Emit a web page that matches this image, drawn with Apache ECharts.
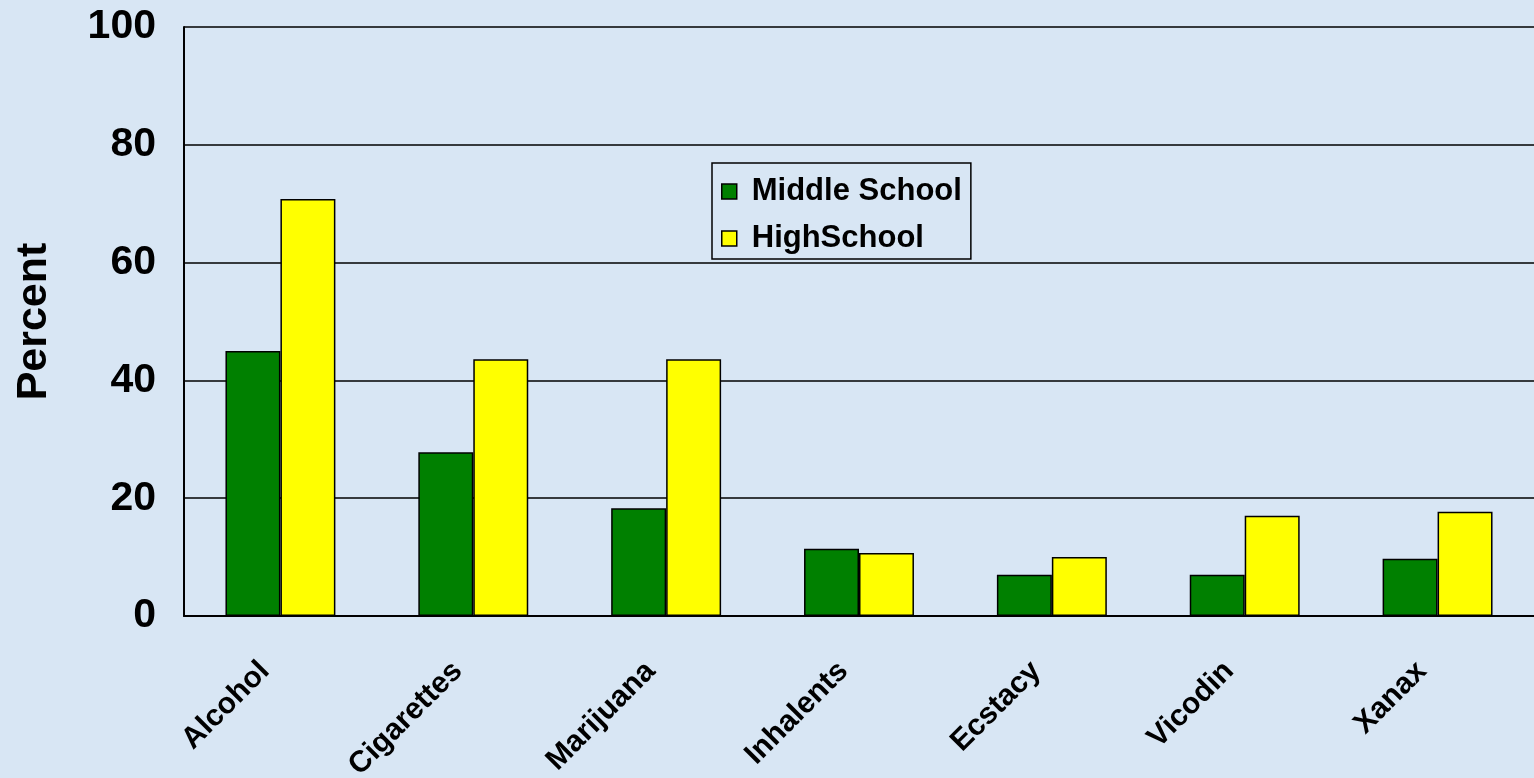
<!DOCTYPE html>
<html>
<head>
<meta charset="utf-8">
<script src="https://cdn.jsdelivr.net/npm/echarts@6/dist/echarts.min.js"></script>
<style>
  html, body { margin: 0; padding: 0; background: #d8e6f4; }
  #chart { width: 1534px; height: 778px; }
</style>
</head>
<body>
<div id="chart"></div>
<script>
const categories = ['Alcohol', 'Cigarettes', 'Marijuana', 'Inhalents', 'Ecstacy', 'Vicodin', 'Xanax'];
const middleSchool = [45, 27.8, 18.3, 11.4, 7, 7, 9.7];
const highSchool = [70.8, 43.6, 43.6, 10.7, 10, 17, 17.7];

const chart = echarts.init(document.getElementById('chart'));
const font = 'Liberation Sans, Arial, sans-serif';

chart.setOption({
  backgroundColor: '#d8e6f4',
  animation: false,
  grid: { left: 184, right: 0, top: 27, bottom: 162, containLabel: false, outerBoundsMode: 'none' },
  legend: {
    orient: 'vertical',
    left: 712,
    top: 163,
    padding: [13, 9, 5, 9],
    borderColor: '#000',
    borderWidth: 1.5,
    itemWidth: 15,
    itemHeight: 15,
    itemGap: 16,
    icon: 'rect',
    itemStyle: { borderColor: '#000', borderWidth: 1.5 },
    textStyle: { fontFamily: font, fontWeight: 'bold', fontSize: 31, color: '#000', padding: [0, 0, 0, 10] },
    data: ['Middle School', 'HighSchool']
  },
  xAxis: {
    type: 'category',
    data: categories,
    axisLine: { lineStyle: { color: '#000', width: 2 } },
    axisTick: { show: false },
    axisLabel: {
      rotate: 45,
      margin: 35,
      padding: [0, 22, 0, 0],
      fontFamily: font,
      fontWeight: 'bold',
      fontSize: 30,
      color: '#000'
    }
  },
  yAxis: {
    type: 'value',
    min: 0,
    max: 100,
    interval: 20,
    name: 'Percent',
    nameLocation: 'middle',
    nameGap: 128,
    nameRotate: 90,
    nameTextStyle: { fontFamily: font, fontWeight: 'bold', fontSize: 43, color: '#000' },
    axisLine: { show: true, lineStyle: { color: '#000', width: 2 } },
    axisTick: { show: false },
    axisLabel: {
      margin: 28,
      fontFamily: font,
      fontWeight: 'bold',
      fontSize: 41,
      color: '#000'
    },
    splitLine: { lineStyle: { color: '#000', width: 1.5 } }
  },
  series: [
    {
      name: 'Middle School',
      type: 'bar',
      data: middleSchool,
      barGap: '0%',
      barCategoryGap: '43%',
      itemStyle: { color: '#008000', borderColor: '#000', borderWidth: 1.5 }
    },
    {
      name: 'HighSchool',
      type: 'bar',
      data: highSchool,
      itemStyle: { color: '#ffff00', borderColor: '#000', borderWidth: 1.5 }
    }
  ]
});
</script>
</body>
</html>
